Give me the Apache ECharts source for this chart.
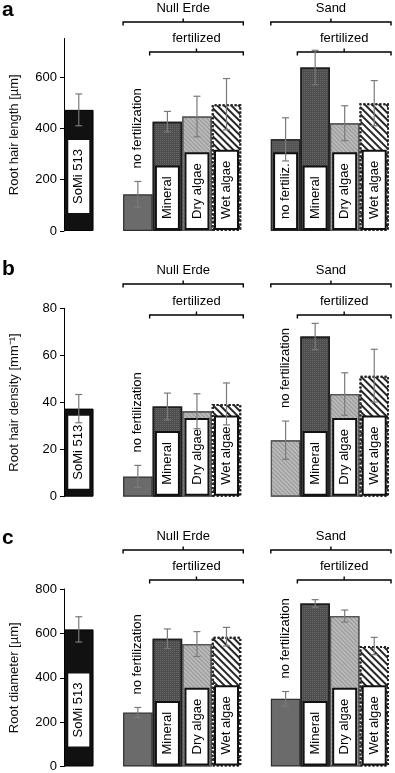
<!DOCTYPE html>
<html>
<head>
<meta charset="utf-8">
<script src="https://cdn.jsdelivr.net/npm/echarts@6/dist/echarts.min.js"></script>
<style>
  html, body { margin: 0; padding: 0; background: #fff; }
  #chart { width: 395px; height: 773px; }
</style>
</head>
<body>
<div id="chart"></div>
<script>
// 11 slots: reference, spacer, Null Erde x4, spacer, Sand x4
const categories = ['SoMi 513', 'gap1', 'NE none', 'NE Mineral', 'NE Dry algae', 'NE Wet algae',
  'gap2', 'Sand none', 'Sand Mineral', 'Sand Dry algae', 'Sand Wet algae'];

const labelsA = ['SoMi 513', '', 'no fertilization', 'Mineral', 'Dry algae', 'Wet algae', '', 'no fertiliz.', 'Mineral', 'Dry algae', 'Wet algae'];
const labelsB = ['SoMi 513', '', 'no fertilization', 'Mineral', 'Dry algae', 'Wet algae', '', 'no fertilization', 'Mineral', 'Dry algae', 'Wet algae'];
const labelsC = labelsB;

// a - root hair length [µm]
const lengthMean = [472, null, 143, 426, 446, 494, null, 357, 637, 420, 498];
const lengthErr  = [62, null, 50, 40, 79, 100, null, 84, 67, 68, 88];
// b - root hair density [mm-1]
const densityMean = [37.4, null, 8.6, 38.3, 36.3, 39.4, null, 24, 68, 43.6, 51.4];
const densityErr  = [6, null, 4.7, 5.7, 7.4, 8.9, null, 8.1, 5.6, 9, 11.2];
// c - root diameter [µm]
const diameterMean = [618, null, 243, 576, 552, 585, null, 305, 735, 678, 543];
const diameterErr  = [57, null, 23, 44, 56, 42, null, 33, 17, 27, 39];

const lengthTicks = [0, 200, 400, 600];
const densityTicks = [0, 20, 40, 60, 80];
const diameterTicks = [0, 200, 400, 600, 800];

const brackets = [
  { text: 'Null Erde', from: 2, to: 5, level: 0 },
  { text: 'fertilized', from: 3, to: 5, level: 1 },
  { text: 'Sand', from: 7, to: 10, level: 0 },
  { text: 'fertilized', from: 8, to: 10, level: 1 }
];

const FONT = 'Liberation Sans, Arial, sans-serif';

// fill kind of every slot, per panel
const panels = [
  { letter: 'a', name: 'Root hair length [µm]', mean: lengthMean, err: lengthErr, labels: labelsA, ticks: lengthTicks, max: 750,
    top: 38.5, height: 192.5, letterY: 11, bracketY: [22, 52], somiDist: 18,
    kinds: ['somi', null, 'plain', 'mineral', 'dry', 'wet', null, 'dark', 'mineral', 'dry', 'wet'] },
  { letter: 'b', name: 'Root hair density [mm⁻¹]', mean: densityMean, err: densityErr, labels: labelsB, ticks: densityTicks, max: 80,
    top: 308.3, height: 188.4, letterY: 270, bracketY: [284, 315], somiDist: 8,
    kinds: ['somi', null, 'plain', 'mineral', 'dry', 'wet', null, 'dry', 'mineral', 'dry', 'wet'] },
  { letter: 'c', name: 'Root diameter [µm]', mean: diameterMean, err: diameterErr, labels: labelsC, ticks: diameterTicks, max: 800,
    top: 589, height: 177.7, letterY: 539, bracketY: [550, 580], somiDist: 20,
    kinds: ['somi', null, 'plain', 'mineral', 'dry', 'wet', null, 'plain', 'mineral', 'dry', 'wet'] }
];

const fills = {
  somi:    { color: '#111', borderColor: '#000', borderWidth: 1 },
  plain:   { color: '#6b6b6b', borderColor: '#2e2e2e', borderWidth: 1.2 },
  dark:    { color: '#555', borderColor: '#262626', borderWidth: 1.2,
             decal: { symbol: 'rect', symbolSize: 1, dashArrayX: [1, 1], dashArrayY: [1, 1], color: 'rgba(255,255,255,0.08)' } },
  mineral: { color: '#4e4e4e', borderColor: '#1e1e1e', borderWidth: 1.6,
             decal: { symbol: 'rect', symbolSize: 1, dashArrayX: [1, 1], dashArrayY: [1, 1], color: 'rgba(255,255,255,0.14)' } },
  dry:     { color: '#b9b9b9', borderColor: '#555', borderWidth: 1.2,
             decal: { symbol: 'rect', symbolSize: 1, dashArrayX: [1, 0], dashArrayY: [1, 2], rotation: Math.PI / 4, color: 'rgba(0,0,0,0.18)' } },
  wet:     { color: '#fff', borderColor: '#222', borderWidth: 2, borderType: 'dotted',
             decal: { symbol: 'rect', symbolSize: 1, dashArrayX: [1, 0], dashArrayY: [1.3, 2.5], rotation: Math.PI / 4, color: '#262626' } }
};

const chart = echarts.init(document.getElementById('chart'));

const grids = [], xAxes = [], yAxes = [], series = [];

panels.forEach((p, pi) => {
  const pxPerUnit = p.height / p.max;
  grids.push({ left: 59, width: 330, top: p.top, height: p.height });
  xAxes.push({
    gridIndex: pi, type: 'category', data: categories,
    axisLine: { show: false }, axisTick: { show: false }, axisLabel: { show: false }
  });
  yAxes.push({
    gridIndex: pi, type: 'value', min: 0, max: p.max,
    name: p.name, nameLocation: 'middle', nameGap: 43,
    nameTextStyle: { fontFamily: FONT, fontSize: 13, color: '#111' },
    axisLine: { show: true, lineStyle: { color: '#000', width: 1 } },
    axisTick: { show: true, length: 4, lineStyle: { color: '#000' }, customValues: p.ticks },
    axisLabel: { fontFamily: FONT, fontSize: 13, color: '#000', margin: 7, customValues: p.ticks },
    splitLine: { show: false }
  });

  const barData = p.mean.map((v, i) => {
    if (v == null) return null;
    const item = { value: v, itemStyle: fills[p.kinds[i]] };
    const txt = p.labels[i];
    if (txt === 'no fertilization') {
      item.label = {
        show: true, position: 'top', distance: p.err[i] * pxPerUnit + 13,
        rotate: 90, align: 'left', verticalAlign: 'middle',
        formatter: txt, fontFamily: FONT, fontSize: 13, color: '#000'
      };
    } else if (txt) {
      item.label = {
        show: true, position: 'insideBottom', distance: i === 0 ? p.somiDist : 3,
        rotate: 90, align: 'left', verticalAlign: 'middle',
        formatter: txt, fontFamily: FONT, fontSize: 13, lineHeight: 13, color: '#000',
        backgroundColor: '#fff', borderColor: '#111', borderWidth: 2, padding: [4, 9]
      };
    }
    return item;
  });

  series.push({
    type: 'bar', xAxisIndex: pi, yAxisIndex: pi, barWidth: '100%', barGap: '0%',
    data: barData, animation: false
  });

  series.push({
    type: 'custom', xAxisIndex: pi, yAxisIndex: pi, z: 5, animation: false,
    data: p.mean.map((v, i) => v == null ? [i, null, null] : [i, v, p.err[i]]),
    encode: { x: 0, y: 1 },
    renderItem: (params, api) => {
      const m = api.value(1), e = api.value(2);
      if (m == null || isNaN(m)) return null;
      const x = api.value(0);
      const t = api.coord([x, m + e]);
      const b = api.coord([x, m - e]);
      const style = { stroke: '#7a7a7a', lineWidth: 1.2 };
      return {
        type: 'group',
        children: [
          { type: 'line', shape: { x1: t[0], y1: t[1], x2: b[0], y2: b[1] }, style },
          { type: 'line', shape: { x1: t[0] - 3.5, y1: t[1], x2: t[0] + 3.5, y2: t[1] }, style },
          { type: 'line', shape: { x1: b[0] - 3.5, y1: b[1], x2: b[0] + 3.5, y2: b[1] }, style }
        ]
      };
    }
  });
});

chart.setOption({
  backgroundColor: '#fff',
  animation: false,
  grid: grids,
  xAxis: xAxes,
  yAxis: yAxes,
  series: series
});

// brackets and panel letters, placed from the category axis
const graphics = [];
panels.forEach((p, pi) => {
  const px = i => chart.convertToPixel({ xAxisIndex: pi }, i);
  const half = (px(1) - px(0)) / 2;
  graphics.push({
    type: 'text', left: 2, top: p.letterY - 11,
    style: { text: p.letter, font: 'bold 21px ' + FONT, fill: '#000' }
  });
  brackets.forEach(b => {
    const x1 = px(b.from) - half - (b.level ? 3 : 0);
    const x2 = px(b.to) + half + 2;
    const xc = (x1 + x2) / 2;
    const y = p.bracketY[b.level];
    graphics.push({
      type: 'polyline',
      shape: { points: [[x1, y + 3.5], [x1, y], [x2, y], [x2, y + 3.5]] },
      style: { stroke: '#000', lineWidth: 1.4, fill: null }
    });
    graphics.push({
      type: 'line',
      shape: { x1: xc, y1: y, x2: xc, y2: y - 3.5 },
      style: { stroke: '#000', lineWidth: 1.4 }
    });
    graphics.push({
      type: 'text', x: xc, y: y - 14,
      style: { text: b.text, font: '13px ' + FONT, fill: '#000', align: 'center', verticalAlign: 'middle' }
    });
  });
});
chart.setOption({ graphic: graphics });
</script>
</body>
</html>
